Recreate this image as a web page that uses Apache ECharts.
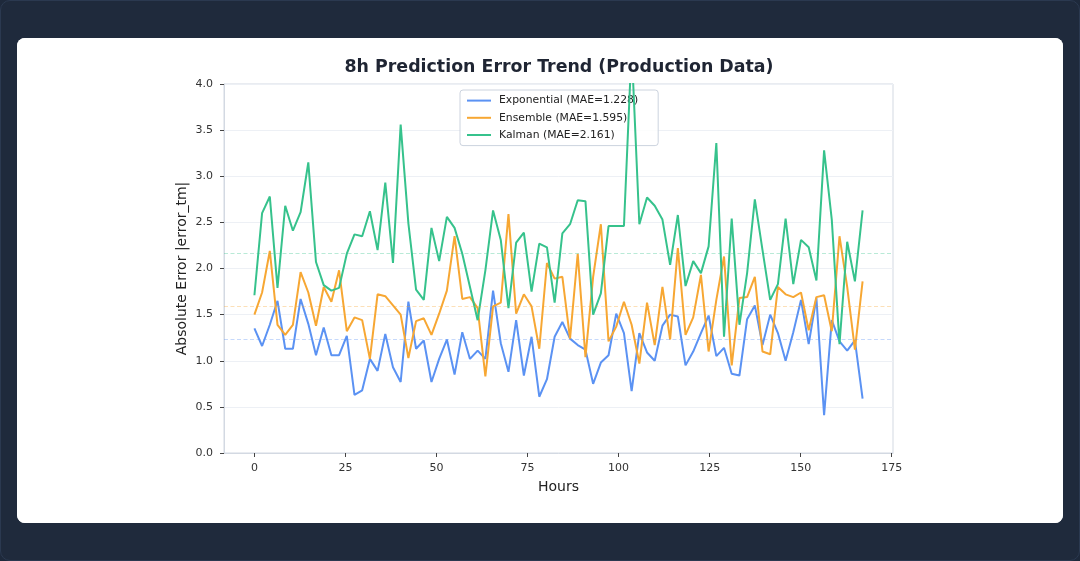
<!DOCTYPE html>
<html>
<head>
<meta charset="utf-8">
<script src="https://cdn.jsdelivr.net/npm/echarts@6/dist/echarts.min.js"></script>
<style>
  html, body { margin: 0; padding: 0; width: 1080px; height: 561px; background: #1e293b; overflow: hidden; }
  #frame { position: absolute; left: 0; top: 0; width: 1078px; height: 559px; border: 1px solid #2b3950; border-radius: 10px; background: #1f2a3c; }
  #card { position: absolute; left: 17px; top: 38px; width: 1046px; height: 485px; background: #ffffff; border-radius: 8px; overflow: hidden; }
  #chart { width: 1046px; height: 485px; }
</style>
</head>
<body>
<div id="frame"></div>
<div id="card"><div id="chart"></div></div>
<script>
// ---- data ----
const hours = [0, 2.11, 4.23, 6.34, 8.46, 10.57, 12.68, 14.80, 16.91, 19.03,
  21.14, 23.25, 25.37, 27.48, 29.59, 31.71, 33.82, 35.94, 38.05, 40.16,
  42.28, 44.39, 46.51, 48.62, 50.73, 52.85, 54.96, 57.08, 59.19, 61.30,
  63.42, 65.53, 67.65, 69.76, 71.87, 73.99, 76.10, 78.22, 80.33, 82.44,
  84.56, 86.67, 88.78, 90.90, 93.01, 95.13, 97.24, 99.35, 101.47, 103.58,
  105.70, 107.81, 109.92, 112.04, 114.15, 116.27, 118.38, 120.49, 122.61, 124.72,
  126.84, 128.95, 131.06, 133.18, 135.29, 137.41, 139.52, 141.63, 143.75, 145.86,
  147.97, 150.09, 152.20, 154.32, 156.43, 158.54, 160.66, 162.77, 164.89, 167.00];

const exponential = [1.35, 1.16, 1.39, 1.65, 1.13, 1.13, 1.67, 1.40, 1.06, 1.36,
  1.06, 1.06, 1.27, 0.63, 0.68, 1.02, 0.89, 1.29, 0.93, 0.77,
  1.64, 1.13, 1.22, 0.77, 1.02, 1.23, 0.85, 1.31, 1.02, 1.11,
  1.02, 1.76, 1.19, 0.88, 1.44, 0.84, 1.26, 0.61, 0.80, 1.26,
  1.42, 1.24, 1.17, 1.12, 0.75, 0.98, 1.06, 1.51, 1.30, 0.67,
  1.30, 1.09, 1.00, 1.38, 1.50, 1.48, 0.95, 1.10, 1.30, 1.49,
  1.05, 1.14, 0.86, 0.84, 1.45, 1.60, 1.17, 1.50, 1.30, 1.00,
  1.31, 1.66, 1.18, 1.68, 0.41, 1.44, 1.21, 1.11, 1.22, 0.59];

const ensemble = [1.50, 1.74, 2.19, 1.39, 1.28, 1.39, 1.96, 1.74, 1.38, 1.80,
  1.64, 1.98, 1.32, 1.47, 1.44, 1.02, 1.72, 1.70, 1.60, 1.50,
  1.03, 1.43, 1.46, 1.28, 1.51, 1.76, 2.35, 1.67, 1.69, 1.57,
  0.83, 1.59, 1.63, 2.59, 1.51, 1.72, 1.59, 1.13, 2.06, 1.89,
  1.91, 1.24, 2.16, 1.04, 1.91, 2.48, 1.21, 1.37, 1.64, 1.39,
  0.97, 1.63, 1.17, 1.80, 1.23, 2.22, 1.28, 1.47, 1.93, 1.10,
  1.66, 2.13, 0.95, 1.68, 1.69, 1.91, 1.10, 1.07, 1.80, 1.72,
  1.69, 1.74, 1.33, 1.69, 1.71, 1.32, 2.35, 1.80, 1.12, 1.86];

const kalman = [1.71, 2.60, 2.78, 1.79, 2.68, 2.41, 2.61, 3.15, 2.07, 1.82,
  1.76, 1.79, 2.16, 2.37, 2.35, 2.62, 2.20, 2.93, 2.06, 3.56,
  2.49, 1.77, 1.66, 2.44, 2.08, 2.56, 2.44, 2.16, 1.80, 1.44,
  1.98, 2.63, 2.31, 1.57, 2.28, 2.39, 1.75, 2.27, 2.23, 1.63,
  2.38, 2.48, 2.74, 2.73, 1.50, 1.73, 2.46, 2.46, 2.46, 4.40,
  2.48, 2.77, 2.68, 2.53, 2.04, 2.58, 1.81, 2.08, 1.95, 2.24,
  3.36, 1.26, 2.54, 1.39, 1.95, 2.75, 2.20, 1.66, 1.83, 2.54,
  1.83, 2.31, 2.23, 1.87, 3.28, 2.53, 1.18, 2.29, 1.86, 2.63];

const seriesNames = ['Exponential', 'Ensemble', 'Kalman'];
const maeValues = [1.228, 1.595, 2.161];
const xTicks = [0, 25, 50, 75, 100, 125, 150, 175];
const yTicks = [0.0, 0.5, 1.0, 1.5, 2.0, 2.5, 3.0, 3.5, 4.0];

// ---- styling ----
const colors = ['#5b92f3', '#f7a733', '#36c28c'];
const FONT = 'DejaVu Sans';

const seriesData = [exponential, ensemble, kalman];
const series = seriesData.map((vals, i) => ({
  name: seriesNames[i] + ' (MAE=' + maeValues[i].toFixed(3) + ')',
  type: 'line',
  data: vals.map((v, j) => [hours[j], v]),
  symbol: 'none',
  clip: true,
  lineStyle: { width: 2, color: colors[i] },
  itemStyle: { color: colors[i] },
  z: 2 + i,
  markLine: {
    silent: true,
    symbol: 'none',
    label: { show: false },
    animation: false,
    lineStyle: { type: [4, 2.5], width: 1, color: colors[i], opacity: 0.35 },
    data: [{ yAxis: maeValues[i] }]
  }
}));

const chart = echarts.init(document.getElementById('chart'), null, { renderer: 'canvas' });
chart.setOption({
  animation: false,
  backgroundColor: '#ffffff',
  textStyle: { fontFamily: FONT },
  title: {
    text: '8h Prediction Error Trend (Production Data)',
    left: 537,
    top: 16,
    textAlign: 'center',
    textStyle: { fontFamily: FONT, fontSize: 17.4, fontWeight: 'bold', color: '#1f2533' }
  },
  legend: {
    orient: 'vertical',
    left: 443,
    top: 52,
    itemWidth: 24,
    itemHeight: 14,
    itemGap: 6,
    padding: [5, 20, 5, 6],
    backgroundColor: 'rgba(255,255,255,0.82)',
    borderColor: '#ccd3de',
    borderWidth: 1,
    borderRadius: 3,
    itemStyle: { opacity: 0 },
    lineStyle: { width: 2 },
    textStyle: { fontFamily: FONT, fontSize: 10.8, color: '#222', padding: [0, 0, 0, 3] },
    data: series.map(s => s.name)
  },
  grid: {
    left: 207, top: 46, width: 669, height: 369,
    show: true, borderColor: '#d3d9e2', borderWidth: 1, backgroundColor: 'transparent'
  },
  xAxis: {
    type: 'value',
    min: -8.35,
    max: 175.35,
    name: 'Hours',
    nameLocation: 'middle',
    nameGap: 27,
    nameMoveOverlap: false,
    nameTextStyle: { fontFamily: FONT, fontSize: 14, color: '#222' },
    axisLine: { show: true, onZero: false, lineStyle: { color: '#d3d9e2', width: 1 } },
    axisTick: { show: true, customValues: xTicks, length: 4, lineStyle: { color: '#444' } },
    axisLabel: { customValues: xTicks, margin: 10, fontFamily: FONT, fontSize: 11, color: '#333',
      formatter: v => String(v) },
    splitLine: { show: false }
  },
  yAxis: {
    type: 'value',
    min: 0,
    max: 4,
    interval: 0.5,
    name: 'Absolute Error |error_tm|',
    nameLocation: 'middle',
    nameGap: 35,
    nameMoveOverlap: false,
    nameTextStyle: { fontFamily: FONT, fontSize: 14, color: '#222' },
    axisLine: { show: true, onZero: false, lineStyle: { color: '#d3d9e2', width: 1 } },
    axisTick: { show: true, customValues: yTicks, length: 4, lineStyle: { color: '#444' } },
    axisLabel: { customValues: yTicks, margin: 11, fontFamily: FONT, fontSize: 11, color: '#333',
      formatter: v => Number(v).toFixed(1) },
    splitLine: { show: true, lineStyle: { color: '#edf0f5', width: 1 } }
  },
  series: series
});
</script>
</body>
</html>
